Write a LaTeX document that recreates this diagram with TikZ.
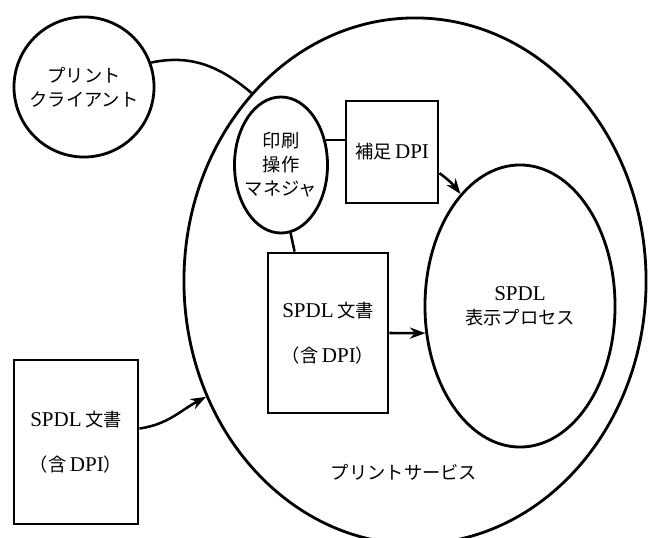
\documentclass[tikz,border=0pt]{standalone}
\usepackage{fontspec}
\setmainfont[Scale=1.15]{Liberation Serif}
\newfontfamily\jfont{Noto Sans CJK JP}
\usetikzlibrary{calc,arrows.meta,shapes.geometric}
\newcommand\jtext[1]{{\jfont #1}}

\tikzset{
	blob/.style={draw, ellipse, line width=2pt, inner sep=0pt, align=center},
	sheet/.style={draw, rectangle, line width=2pt, inner sep=0pt, align=center},
	link/.style={line width=1.8pt},
	flow/.style={line width=1.8pt, -{Stealth[length=11pt,width=8pt]}}
}

\begin{document}
\begin{tikzpicture}[x=0.025cm, y=-0.025cm, font=\fontsize{13}{17}\selectfont]
			%%%%% START %%%%%
			\useasboundingbox (0, 0) rectangle (648, 537);
			
			\node[blob, minimum width=11.55cm, minimum height=13.15cm] (service) at (415, 281) {};
			\node (servicelabel) at (404, 472) {\jtext{プリントサービス}};
			
			\node[draw, circle, line width=2pt, inner sep=0pt, minimum size=3.5cm, align=center] (client) at (84, 87) {\jtext{プリント}\\\jtext{クライアント}};
			
			\node[blob, inner xsep=-6pt, minimum width=2.325cm, minimum height=3.4cm] (mgr) at (281, 165) {\jtext{印刷}\\\jtext{操作}\\\jtext{マネジャ}};
			\node[sheet, minimum width=2.3cm, minimum height=2.55cm] (supp) at (392, 152) {\jtext{補足}\,DPI};
			\node[sheet, minimum width=3.0cm, minimum height=4.0cm] (doc) at (328, 333) {SPDL\,\jtext{文書}\\[15pt]\jtext{（含}\,DPI\jtext{）}};
			\node[blob, minimum width=4.75cm, minimum height=7.05cm] (proc) at (520, 306) {SPDL\\\jtext{表示プロセス}};
			
			\node[sheet, minimum width=3.1cm, minimum height=4.1cm] (src) at (76, 442) {SPDL\,\jtext{文書}\\[15pt]\jtext{（含}\,DPI\jtext{）}};
			
			\draw[link] (client.20) to[out=12, in=140] (service.131);
			\draw[link] (mgr.29) -- (mgr.29 -| supp.west);
			\draw[link] (mgr.-82) -- ([xshift=0.7cm]doc.north west);
			
			\draw[flow] (supp.-24) to[bend left=8] (proc.118);
			\draw[flow] (doc.east) -- (proc.196);
			\draw[flow] (src.12) to[out=8, in=208] (service.209);
			
			%%%%% END %%%%%
\end{tikzpicture}
\end{document}
